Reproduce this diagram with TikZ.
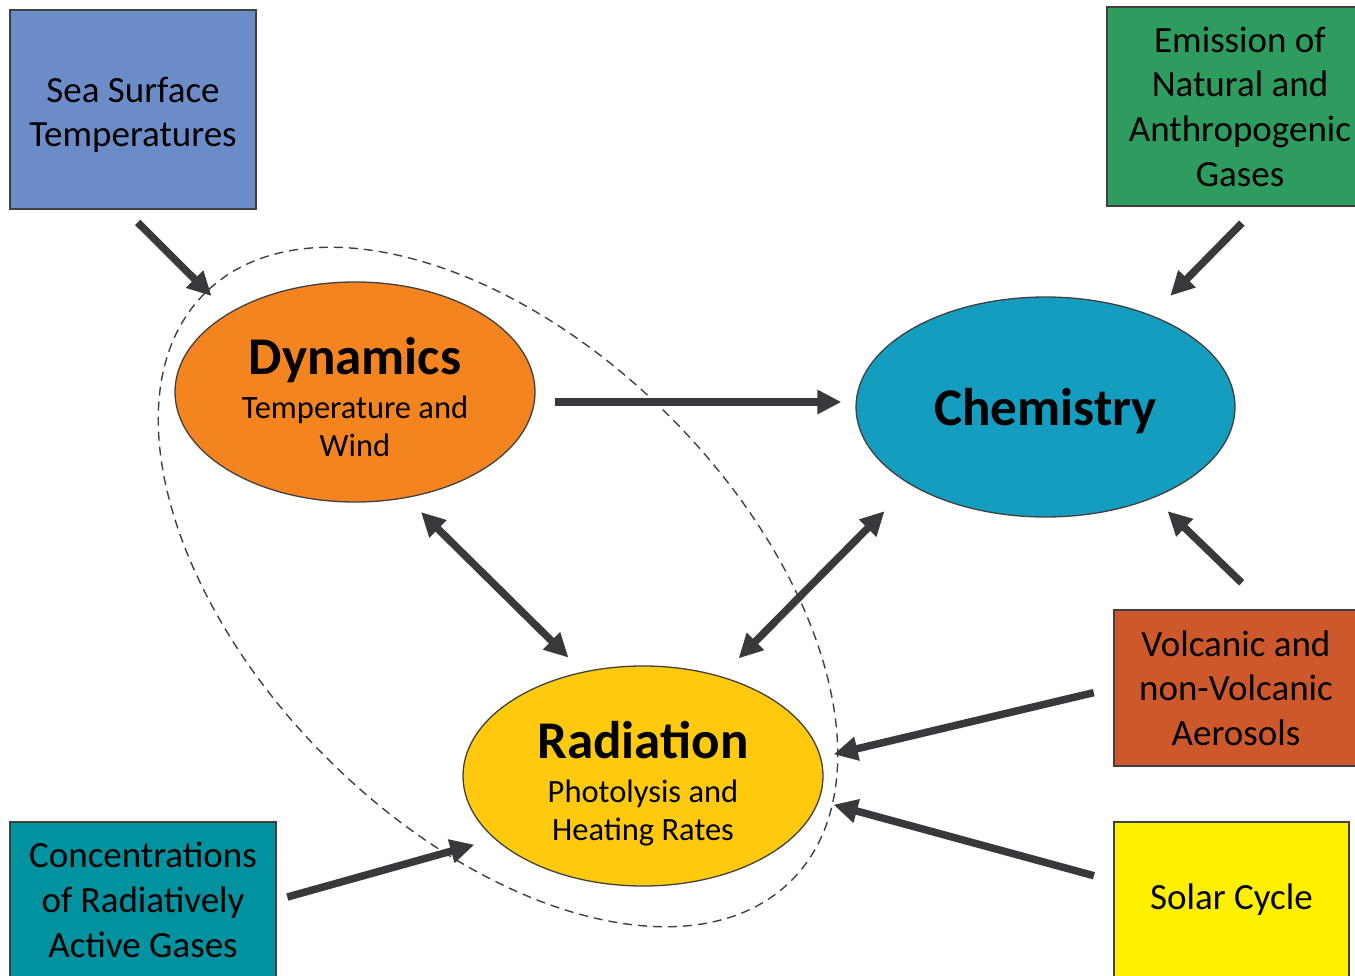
\documentclass[tikz,border=0pt]{standalone}
\usepackage{fontspec}
\setmainfont{Carlito}
\usetikzlibrary{arrows.meta,shapes.geometric}
\definecolor{arrgray}{HTML}{38383D}
\definecolor{edgegray}{HTML}{404040}
\definecolor{sstblue}{HTML}{6C8CC8}
\definecolor{emisgreen}{HTML}{2E9B5F}
\definecolor{volcred}{HTML}{CC582C}
\definecolor{solaryellow}{HTML}{FFF000}
\definecolor{concteal}{HTML}{00939F}
\definecolor{dynorange}{HTML}{F48420}
\definecolor{chemblue}{HTML}{149DBE}
\definecolor{radyellow}{HTML}{FFC90D}
\def\titlefont{\fontsize{53}{50}\bfseries\selectfont}
\def\subfont{\fontsize{32.5}{38}\selectfont}
\def\boxfont{\fontsize{37}{44.7}\selectfont}
\def\tip{Triangle[length=24pt,width=23pt]}
\def\lift#1{\rule{0pt}{#1}}

\begin{document}
\begin{tikzpicture}[x=1pt,y=-1pt,
    srcbox/.style={draw=edgegray,line width=1.5pt,inner sep=0pt,align=center,font=\boxfont},
    proc/.style={ellipse,draw=edgegray,line width=1.3pt,inner sep=0pt,minimum width=360pt,minimum height=220pt,align=center,font=\subfont},
    arr/.style={draw=arrgray,line width=7.5pt,-{\tip}},
    dbl/.style={arr,{\tip}-{\tip}}]
    \useasboundingbox (0,0) rectangle (1355,976);

    \draw[edgegray,line width=1.4pt,dash pattern=on 9pt off 6pt] (498,587) ellipse [x radius=415pt, y radius=242pt, rotate=-45];

    \node[srcbox,fill=sstblue,minimum width=246pt,minimum height=199pt] (sst) at (133,109.5) {\lift{36pt}Sea Surface\\Temperatures};
    \node[srcbox,fill=emisgreen,minimum width=266pt,minimum height=199pt] (emis) at (1240,106.5) {Emission of\\Natural and\\Anthropogenic\\Gases};
    \node[srcbox,fill=volcred,minimum width=244pt,minimum height=156pt] (volc) at (1236,688) {Volcanic and\\non-Volcanic\\Aerosols};
    \node[srcbox,fill=solaryellow,minimum width=235pt,minimum height=156pt] (solar) at (1231.5,900) {Solar Cycle};
    \node[srcbox,fill=concteal,minimum width=266pt,minimum height=156pt] (conc) at (143,900) {Concentrations\\of Radiatively\\Active Gases};

    \node[proc,fill=dynorange] (dyn) at (355,392) {{\titlefont\lift{48pt}Dynamics}\\[6pt]Temperature and\\Wind};
    \node[proc,fill=chemblue,minimum width=379pt,text depth=0pt] (chem) at (1045.5,407) {\titlefont Chemistry};
    \node[proc,fill=radyellow] (rad) at (643,776) {{\titlefont\lift{52pt}Radiation}\\[6pt]Photolysis and\\Heating Rates};

    \draw[arr,shorten <=18pt,shorten >=24pt] ([xshift=-8pt]sst.south) -- (dyn.148);
    \draw[arr,shorten <=23pt,shorten >=27pt] ([xshift=18pt]emis.south) -- (chem.41);
    \draw[arr,shorten <=19pt,shorten >=14pt] ([yshift=-10pt]dyn.east) -- ([yshift=5pt]chem.west);
    \draw[dbl,shorten <=20pt,shorten >=20pt] (dyn.-64) -- (rad.120);
    \draw[dbl,shorten <=37pt,shorten >=25pt] (chem.210) -- (rad.52);
    \draw[arr,shorten <=38pt,shorten >=19pt] ([xshift=33pt]volc.north) -- (chem.-40);
    \draw[arr,shorten <=20pt,shorten >=13pt] (volc.west) -- (rad.6);
    \draw[arr,shorten <=20pt,shorten >=15pt] ([yshift=19pt]solar.west) -- (rad.-8);
    \draw[arr,shorten <=11pt,shorten >=21pt] (conc.east) -- (rad.203);
\end{tikzpicture}
\end{document}
